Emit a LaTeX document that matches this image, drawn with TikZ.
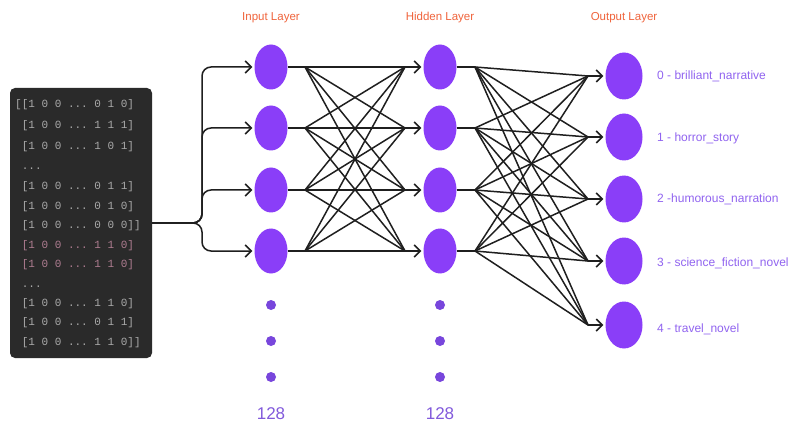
\documentclass[tikz,border=0pt]{standalone}
\usepackage{fontspec}
\setmainfont{Liberation Sans}
\setmonofont{Liberation Mono}
\usetikzlibrary{shapes.geometric,arrows.meta}
\definecolor{nodev}{RGB}{138,62,248}
\definecolor{dotc}{RGB}{120,70,220}
\definecolor{titlec}{RGB}{240,100,60}
\definecolor{lblc}{RGB}{145,100,240}
\definecolor{numc}{RGB}{130,90,220}
\definecolor{boxc}{RGB}{42,42,42}
\definecolor{rowc}{RGB}{170,170,170}
\definecolor{rowp}{RGB}{175,125,145}
\tikzset{
  neuron/.style={ellipse, fill=nodev, minimum width=33pt, minimum height=45pt, inner sep=0pt},
  outneuron/.style={neuron, minimum width=37pt, minimum height=47pt},
  dotn/.style={circle, fill=dotc, minimum size=10pt, inner sep=0pt},
  layertitle/.style={text=titlec, font=\fontsize{11.5}{13}\selectfont},
  classlbl/.style={anchor=west, text=lblc, inner sep=0pt, font=\fontsize{12}{14}\selectfont},
  countlbl/.style={text=numc, font=\fontsize{17}{20}\selectfont},
  conn/.style={line width=1.5pt, draw=black!88},
  arr/.style={conn, -{Straight Barb[length=6pt,width=12pt,line width=1.5pt]}, shorten >=2pt},
  matbox/.style={draw=none, fill=boxc, rounded corners=5pt},
  matrow/.style={anchor=west, inner sep=0pt, text=rowc, font=\ttfamily\fontsize{11}{12}\selectfont},
}
\begin{document}
\begin{tikzpicture}[x=1pt,y=-1pt]
\useasboundingbox (0,0) rectangle (794,430);
\fill[white] (0,0) rectangle (794,430);

% matrix box
\node[matbox, minimum width=142pt, minimum height=270pt] (mat) at (81,223) {};
\node[matrow] (r1) at (15,105) {[[1 0 0 ... 0 1 0]};
\node[matrow] (r2) at (15,126) {\phantom{[}[1 0 0 ... 1 1 1]};
\node[matrow] (r3) at (15,147) {\phantom{[}[1 0 0 ... 1 0 1]};
\node[matrow] (r4) at (15,167) {\phantom{[}...};
\node[matrow] (r5) at (15,187) {\phantom{[}[1 0 0 ... 0 1 1]};
\node[matrow] (r6) at (15,207) {\phantom{[}[1 0 0 ... 0 1 0]};
\node[matrow] (r7) at (15,226) {\phantom{[}[1 0 0 ... 0 0 0]]};
\node[matrow, text=rowp] (r8) at (15,246) {\phantom{[}[1 0 0 ... 1 1 0]};
\node[matrow, text=rowp] (r9) at (15,265) {\phantom{[}[1 0 0 ... 1 1 0]};
\node[matrow] (r10) at (15,285) {\phantom{[}...};
\node[matrow] (r11) at (15,304) {\phantom{[}[1 0 0 ... 1 1 0]};
\node[matrow] (r12) at (15,323) {\phantom{[}[1 0 0 ... 0 1 1]};
\node[matrow] (r13) at (15,343) {\phantom{[}[1 0 0 ... 1 1 0]]};

% titles
\node[layertitle] (tin) at (271,18) {Input Layer};
\node[layertitle] (thid) at (440,18) {Hidden Layer};
\node[layertitle] (tout) at (624,18) {Output Layer};

% neurons
\foreach \i/\y in {1/67,2/128,3/190,4/251}{
  \node[neuron] (in\i) at (271,\y) {};
  \node[neuron] (h\i) at (440,\y) {};
  \coordinate (fa\i) at (305,\y);
  \coordinate (cb\i) at (405,\y);
  \coordinate (fb\i) at (475,\y);
}
\foreach \k/\y in {1/76,2/137,3/199,4/261,5/325}{
  \node[outneuron] (o\k) at (624,\y) {};
  \coordinate (co\k) at (588,\y);
}

% dots and counts
\foreach \y [count=\n] in {305,341,377}{
  \node[dotn] (di\n) at (271,\y) {};
  \node[dotn] (dh\n) at (440,\y) {};
}
\node[countlbl] (cin) at (271,414) {128};
\node[countlbl] (chid) at (440,414) {128};

% class labels
\node[classlbl] (l0) at (657,76) {0 - brilliant\_narrative};
\node[classlbl] (l1) at (657,138) {1 - horror\_story};
\node[classlbl] (l2) at (657,199) {2 -humorous\_narration};
\node[classlbl] (l3) at (657,263) {3 - science\_fiction\_novel};
\node[classlbl] (l4) at (657,329) {4 - travel\_novel};

% input branching
\coordinate (trunk) at (202,223);
\foreach \i in {1,2,3,4}{
  \draw[arr, rounded corners=9pt] (mat.east) -- (trunk) -- (trunk |- in\i.west) -- (in\i.west);
}

% input -> hidden
\foreach \i in {1,2,3,4}{
  \draw[conn] (in\i.east) -- (fa\i);
  \foreach \j in {1,2,3,4}{
    \draw[conn] (fa\i) -- (cb\j);
  }
  \draw[arr] (cb\i) -- (h\i.west);
}

% hidden -> output
\foreach \i in {1,2,3,4}{
  \draw[conn] (h\i.east) -- (fb\i);
  \foreach \k in {1,2,3,4,5}{
    \draw[conn] (fb\i) -- (co\k);
  }
}
\foreach \k in {1,2,3,4,5}{
  \draw[arr] (co\k) -- (o\k.west);
}
\end{tikzpicture}
\end{document}
